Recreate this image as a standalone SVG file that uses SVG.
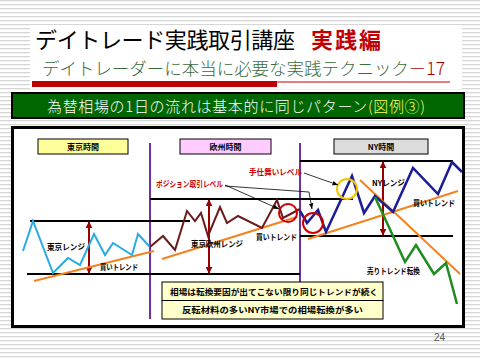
<svg xmlns="http://www.w3.org/2000/svg" width="480" height="360" viewBox="0 0 480 360">
<defs>
<pattern id="stripes" width="4" height="4" patternUnits="userSpaceOnUse">
<rect width="4" height="4" fill="#ffffff"/>
<rect y="0" width="4" height="1.3" fill="#d6d6d6"/>
</pattern>
<marker id="rh" viewBox="0 0 10 10" refX="9" refY="5" markerWidth="3.5" markerHeight="3.5" orient="auto-start-reverse">
<path d="M0,0L10,5L0,10z" fill="#990000"/>
</marker>
<marker id="bh" viewBox="0 0 10 10" refX="10" refY="5" markerWidth="7" markerHeight="7" orient="auto">
<path d="M0,1L10,5L0,9z" fill="#000"/>
</marker>
</defs>
<style>
.jp{font-family:"Noto Sans CJK JP","Noto Sans",sans-serif}
.lbl{font-family:"Noto Sans CJK JP","Noto Sans",sans-serif;font-weight:bold;font-size:8px;fill:#000}
.red{fill:#cc0000}
.rng{stroke:#000;stroke-width:2;fill:none}
.rarr{stroke:#990000;stroke-width:2;fill:none;marker-start:url(#rh);marker-end:url(#rh)}
.trend{stroke:#f5821f;stroke-width:2;fill:none}
.ptr{stroke:#000;stroke-width:0.8;fill:none;marker-end:url(#bh)}
.tbox{stroke:#000;stroke-width:1}
</style>
<rect width="480" height="360" fill="url(#stripes)"/>
<rect x="30" y="25" width="432" height="64" fill="#ffffff"/>

<g id="title">
<text class="jp" x="35" y="48" font-size="22" font-weight="normal" fill="#000" textLength="260">デイトレード実践取引講座</text>
<text class="jp" x="311" y="48" font-size="22" font-weight="bold" fill="#c00000" textLength="70">実践編</text>
</g>
<g id="subtitle">
<text class="jp" x="42" y="75" font-size="17.5" font-weight="300" textLength="403"><tspan fill="#3a6b3a">デイトレーダーに本当に必要な実践テクニック</tspan><tspan fill="#a00000">－17</tspan></text>
<rect x="32" y="81" width="245" height="6" fill="#c00000"/>
<line x1="277" y1="82" x2="450" y2="82" stroke="#c00000" stroke-width="1"/>
</g>
<g id="banner">
<rect x="12" y="93" width="452" height="25" fill="#006600" stroke="#000" stroke-width="2"/>
<text class="jp" x="47" y="112" font-size="15" font-weight="300" fill="#ffffff" textLength="378">為替相場の1日の流れは基本的に同じパターン<tspan fill="#ffff66">(図例③)</tspan></text>
</g>

<g id="chart-frame">
<rect x="12.5" y="127.5" width="451" height="199" fill="#ffffff" stroke="#000" stroke-width="3"/>
</g>

<g id="tokyo-time">
<rect class="tbox" x="38" y="139" width="90" height="15" fill="#ffff99"/>
<text class="lbl" x="83" y="150" font-size="9" text-anchor="middle">東京時間</text>
</g>
<g id="europe-time">
<rect class="tbox" x="180" y="139" width="91" height="15" fill="#ffccff"/>
<text class="lbl" x="225.5" y="150" font-size="9" text-anchor="middle">欧州時間</text>
</g>
<g id="ny-time">
<rect class="tbox" x="334" y="139" width="94" height="15" fill="#dcdcdc"/>
<text class="lbl" x="381" y="150" font-size="9" text-anchor="middle">NY時間</text>
</g>

<g id="connectors">
<line x1="150" y1="143" x2="150" y2="319" stroke="#7030a0" stroke-width="2"/>
<line x1="300" y1="143" x2="300" y2="319" stroke="#7030a0" stroke-width="2"/>
<line class="rng" x1="30" y1="221" x2="190" y2="221"/>
<line class="rng" x1="27" y1="274" x2="300" y2="274"/>
<line class="rng" x1="150" y1="199" x2="353" y2="199"/>
<line class="rng" x1="300" y1="161" x2="453" y2="161"/>
<line class="rng" x1="300" y1="236" x2="453" y2="236"/>
<line class="rarr" x1="89" y1="222" x2="89" y2="273"/>
<line class="rarr" x1="209" y1="200" x2="209" y2="273"/>
<line class="rarr" x1="383" y1="162" x2="383" y2="235"/>
<line class="trend" x1="34" y1="281" x2="154" y2="251"/>
<line class="trend" x1="162" y1="259" x2="297" y2="217"/>
<line class="trend" x1="308" y1="239" x2="458" y2="191"/>
<line class="trend" x1="360" y1="180" x2="460" y2="274"/>
<polyline fill="none" stroke="#29abe2" stroke-width="2" points="23,251 33,221 53,273 68,258 80,265 94,234 105,255 113,243 132,255 138,234 150,247"/>
<polyline fill="none" stroke="#6b1a1a" stroke-width="2" points="150,247 163,236 175,250 187,211 195,221 201,213 208,236 220,207 227,223 238,216 262,228 277,200 283,218 300,209"/>
<polyline fill="none" stroke="#1c1c96" stroke-width="2.5" points="300,211 307,223 318,210 326,232 352,176 364,213 375,196 393,212 413,168 438,194 452,162 462,172"/>
<polyline fill="none" stroke="#1e8c1e" stroke-width="2.5" points="375,197 405,262 416,245 434,274 446,263 457,304"/>
<circle cx="288" cy="213" r="9" fill="none" stroke="#cc0000" stroke-width="2"/>
<circle cx="313" cy="223" r="10" fill="none" stroke="#cc0000" stroke-width="2"/>
<circle cx="347" cy="189" r="10" fill="none" stroke="#f5c400" stroke-width="2"/>
<line class="ptr" x1="225" y1="185" x2="279" y2="209"/>
<polyline class="ptr" points="225,186 309,192 312,209"/>
<line class="ptr" x1="304" y1="173" x2="338" y2="185"/>
</g>

<g id="labels">
<text class="lbl" x="47" y="250" textLength="38" lengthAdjust="spacingAndGlyphs">東京レンジ</text>
<text class="lbl" x="100" y="270" textLength="38" lengthAdjust="spacingAndGlyphs">買いトレンド</text>
<text class="lbl" x="191" y="247" textLength="52" lengthAdjust="spacingAndGlyphs">東京欧州レンジ</text>
<text class="lbl" x="256" y="240" textLength="41" lengthAdjust="spacingAndGlyphs">買いトレンド</text>
<text class="lbl" x="372" y="186" textLength="33" lengthAdjust="spacingAndGlyphs">NYレンジ</text>
<text class="lbl" x="413" y="206" textLength="42" lengthAdjust="spacingAndGlyphs">買いトレンド</text>
<text class="lbl" x="367" y="274" textLength="53" lengthAdjust="spacingAndGlyphs">売りトレンド転換</text>
<text class="lbl red" x="156" y="187" textLength="67" lengthAdjust="spacingAndGlyphs">ポジション取引レベル</text>
<text class="lbl red" x="249" y="175" textLength="53" lengthAdjust="spacingAndGlyphs">手仕舞いレベル</text>
</g>

<g id="note-box">
<rect class="tbox" x="162" y="282" width="221" height="18.5" fill="#ffffcc"/>
<rect class="tbox" x="162" y="300.5" width="221" height="18.5" fill="#ffffcc"/>
<text class="lbl" x="274" y="294.5" font-size="9" text-anchor="middle" textLength="208" lengthAdjust="spacingAndGlyphs">相場は転換要因が出てこない限り同じトレンドが続く</text>
<text class="lbl" x="272.5" y="313" font-size="9" text-anchor="middle" textLength="181" lengthAdjust="spacingAndGlyphs">反転材料の多いNY市場での相場転換が多い</text>
</g>

<text x="434" y="341" font-family="Liberation Sans, sans-serif" font-size="10" fill="#555">24</text>
</svg>
